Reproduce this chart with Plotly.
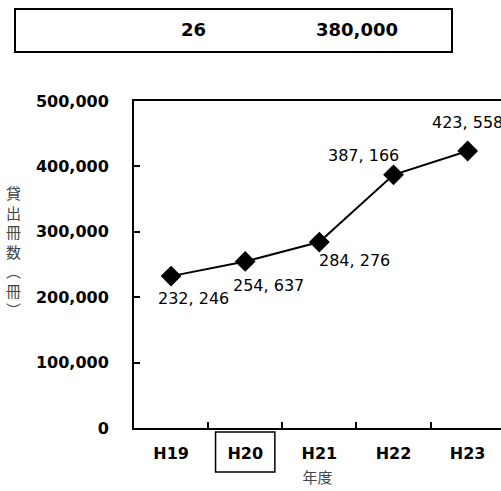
import plotly.graph_objects as go

# Annual library loans (books lent per fiscal year)
years = ["H19", "H20", "H21", "H22", "H23"]
loans = [232246, 254637, 284276, 387166, 423558]

# Target figures shown in the header box
target_year = "26"
target_loans = 380000

y_ticks = [0, 100000, 200000, 300000, 400000, 500000]

# Pixel offsets of each value label relative to its marker
label_dx = [22, 23, 35, -30, 0]
label_dy = [-22, -24, -18, 19, 28]


def fmt(v):
    return "{:,}".format(v).replace(",", ", ")


fig = go.Figure()
fig.add_trace(go.Scatter(
    x=years, y=loans, mode="lines+markers",
    line=dict(color="black", width=2),
    marker=dict(symbol="diamond", size=16, color="black"),
    hoverinfo="skip", showlegend=False,
))

annotations = []
for yr, v, dx, dy in zip(years, loans, label_dx, label_dy):
    annotations.append(dict(
        x=yr, y=v, xref="x", yref="y", text=fmt(v), showarrow=False,
        xshift=dx, yshift=dy,
        font=dict(family="DejaVu Sans", size=16, color="black"),
    ))

# Vertical y-axis title
annotations.append(dict(
    x=(13 - 134) / 367, y=0.54, xref="paper", yref="paper",
    xanchor="center", yanchor="middle",
    text="<br>".join(list("貸出冊数︵冊︶")), showarrow=False,
    font=dict(family="Noto Sans CJK JP", size=15, color="#444"),
))

# Header box texts
for txt, px in [(target_year, 193), ("{:,}".format(target_loans), 357)]:
    annotations.append(dict(
        x=(px - 134) / 367, y=(428 - 30) / 327, xref="paper", yref="paper",
        xanchor="center", yanchor="middle",
        text=txt, showarrow=False,
        font=dict(family="DejaVu Sans", size=18, color="black", weight="bold"),
    ))

shapes = [
    # header box
    dict(type="rect", xref="paper", yref="paper",
         x0=(15 - 134) / 367, x1=(452 - 134) / 367,
         y0=(428 - 52) / 327, y1=(428 - 9) / 327,
         line=dict(color="black", width=2)),
    # frame around the H20 label
    dict(type="rect", xref="x", yref="paper",
         x0=0.6, x1=1.4, y0=(428 - 472) / 327, y1=(428 - 432) / 327,
         line=dict(color="black", width=1.5)),
]

fig.update_layout(
    width=501, height=491,
    margin=dict(l=134, r=0, t=101, b=63, autoexpand=False),
    paper_bgcolor="white", plot_bgcolor="white",
    annotations=annotations, shapes=shapes,
    xaxis=dict(
        type="category", range=[-0.5, 4.45],
        showline=True, linecolor="black", linewidth=2, mirror=True,
        ticks="inside", tickson="boundaries", ticklen=6, tickwidth=1.5, tickcolor="black",
        showgrid=False, zeroline=False,
        ticklabelstandoff=10,
        tickfont=dict(family="DejaVu Sans", size=16, color="black", weight="bold"),
        title=dict(text="年度", standoff=10,
                   font=dict(family="Noto Sans CJK JP", size=15, color="#444")),
    ),
    yaxis=dict(
        range=[0, 500000], tickvals=y_ticks, tickformat=",d",
        showline=True, linecolor="black", linewidth=2,
        ticks="inside", ticklen=6, tickwidth=1.5, tickcolor="black",
        showgrid=False, zeroline=False,
        ticklabelstandoff=20,
        tickfont=dict(family="DejaVu Sans", size=16, color="black", weight="bold"),
    ),
)

fig.write_html("out.html")
